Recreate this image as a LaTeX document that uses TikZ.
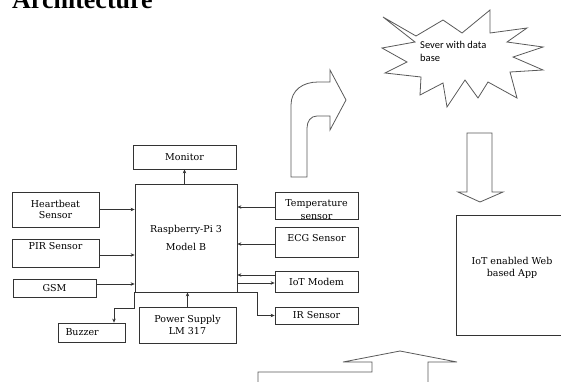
\documentclass[tikz,border=0pt]{standalone}
\usepackage{fontspec}
\setmainfont{DejaVu Serif}
\newfontfamily\cloudfont{Carlito}
\newfontfamily\titlefont{Liberation Serif}
\usetikzlibrary{arrows.meta}
\begin{document}
\begin{tikzpicture}[x=1pt,y=-1pt,
  box/.style={draw=black!80, line width=0.8pt, inner sep=1pt, align=center, font=\fontsize{9.5}{11.5}\selectfont},
  txt/.style={inner sep=0pt, align=center, font=\fontsize{9.5}{13}\selectfont},
  conn/.style={draw=black!80, line width=0.6pt, -{Stealth[length=4pt,width=3.5pt]}},
  blockarrow/.style={draw=black!65, line width=0.8pt, line join=miter}]
\useasboundingbox (0,0) rectangle (561,381);
\clip (0,0) rectangle (561,381);

% Text Node
\node (title) [anchor=base west, inner sep=0pt, font=\titlefont\bfseries\fontsize{26}{26}\selectfont] at (12,8) {Architecture};

%Shape: Monitor
\node (monitor) [box, minimum width=103pt, minimum height=24pt] at (184.5,157) {Monitor};
%Shape: Raspberry
\node (rpi) [box, minimum width=102pt, minimum height=108pt] at (186,238) {Raspberry-Pi 3\\[6pt]Model B};
%Shape: left sensors
\node (heart) [box, minimum width=87pt, minimum height=35pt] at (55.5,209.5) {Heartbeat\\Sensor};
\node (pir) [box, minimum width=87pt, minimum height=28pt, text depth=14pt] at (55.5,253) {PIR Sensor};
\node (gsm) [box, minimum width=83pt, minimum height=18pt] at (54.5,288) {GSM};
\node (buzzer) [box, minimum width=67pt, minimum height=19pt, text width=52pt, align=left] at (91.5,332.5) {Buzzer};
\node (power) [box, minimum width=97pt, minimum height=36pt] at (187.5,325) {Power Supply\\LM 317};
%Shape: right sensors
\node (temp) [box, minimum width=83pt, minimum height=27pt] at (316.5,205.5) {};
\begin{scope}
\clip (temp.south west) rectangle (temp.north east);
\node (temptext) [txt] at ([yshift=-4pt]temp.center) {Temperature\\sensor};
\end{scope}
\node (ecg) [box, minimum width=83pt, minimum height=30pt, text depth=8.5pt] at (316.5,242) {ECG Sensor};
\node (modem) [box, minimum width=83pt, minimum height=21pt] at (316.5,281.5) {IoT Modem};
\node (ir) [box, minimum width=83pt, minimum height=17pt] at (316.5,315.5) {IR Sensor};

%Shape: Web App
\node (app) [box, anchor=north west, minimum width=130pt, minimum height=120pt] at (456,215) {};
% Text Node
\node (apptext) [txt, font=\fontsize{9.5}{11.5}\selectfont] at (512,268) {IoT enabled Web\\based App};

%Shape: Server star
\draw [blockarrow] (383,17) -- (416,36) -- (443,20) -- (462,33) -- (490,10) -- (490,33) -- (527,28) -- (507,42) -- (543,47) -- (513,57) -- (543,70) -- (510,72) -- (517,98) -- (488,82) -- (478,98) -- (465,80) -- (447,107) -- (443,83) -- (420,95) -- (421,77) -- (385,73) -- (407,62) -- (382,48) -- (415,42) -- cycle;
% Text Node
\node (server) [anchor=north west, inner sep=0pt, align=left, font=\cloudfont\fontsize{10.5}{13}\selectfont] at (420,41) {Sever with data\\base};

%Shape: block arrows
\draw [blockarrow] (291,177) -- (291,105) .. controls (291,90) and (303,82) .. (318,82) -- (330,82) -- (330,70) -- (346,100) -- (330,130) -- (330,116) -- (317,116) .. controls (311,116) and (307,121) .. (307,128) -- (307,177) -- cycle;
\draw [blockarrow] (467,133) -- (492,133) -- (492,192) -- (503,192) -- (480,202) -- (458,192) -- (467,192) -- cycle;
\draw [blockarrow] (258,385) -- (258,372) -- (372,372) -- (372,362) -- (343,362) -- (400,351) -- (457,362) -- (428,362) -- (428,385);

%Straight Lines: connections
\draw [conn] (monitor.south |- rpi.north) -- (monitor.south);
\draw [conn] (heart.east) -- (heart.east -| rpi.west);
\draw [conn] ([yshift=-2pt]pir.east) -- ([yshift=-2pt]pir.east -| rpi.west);
\draw [conn] ([yshift=4pt]gsm.east) -- ([yshift=4pt]gsm.east -| rpi.west);
\draw [conn] ([yshift=-1.5pt]temp.west) -- ([yshift=-1.5pt]temp.west -| rpi.east);
\draw [conn] ([yshift=-2pt]ecg.west) -- ([yshift=-2pt]ecg.west -| rpi.east);
\draw [conn] ([yshift=6.5pt]modem.west) -- ([yshift=6.5pt]modem.west -| rpi.east);
\draw [conn] ([yshift=-1.5pt]modem.west -| rpi.east) -- ([yshift=-1.5pt]modem.west);
\draw [conn] (rpi.south west) -- ++(0,16) -| ([xshift=22.5pt]buzzer.north);
\draw [conn] (power.north) -- (power.north |- rpi.south);
\draw [conn] (rpi.south east) -- ++(20,0) |- (ir.west);

\end{tikzpicture}
\end{document}
